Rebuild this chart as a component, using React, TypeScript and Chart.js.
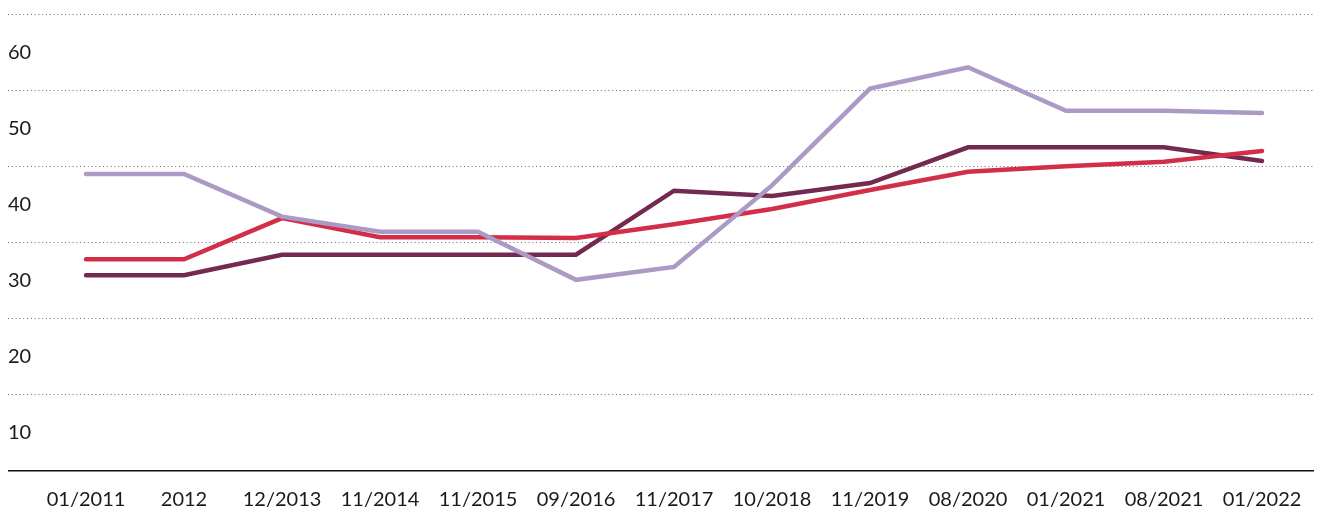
import React, { useEffect, useRef } from "react";
import { Chart, registerables } from "chart.js";

Chart.register(...registerables);

const categories = [
  "01/2011", "2012", "12/2013", "11/2014", "11/2015", "09/2016", "11/2017",
  "10/2018", "11/2019", "08/2020", "01/2021", "08/2021", "01/2022",
];

const purpleSeries = [44.0, 44.0, 38.4, 36.4, 36.4, 30.1, 31.8, 42.5, 55.2, 58.0, 52.3, 52.3, 52.0];
const redSeries = [32.8, 32.8, 38.2, 35.7, 35.7, 35.6, 37.4, 39.4, 41.9, 44.3, 45.0, 45.6, 47.0];
const darkSeries = [30.7, 30.7, 33.4, 33.4, 33.4, 33.4, 41.8, 41.1, 42.8, 47.5, 47.5, 47.5, 45.7];

const yTickValues = [5, 10, 15, 20, 25, 30, 35, 40, 45, 50, 55, 60, 65];
const yLabelValues = [10, 20, 30, 40, 50, 60];

const FONT = "Lato, 'Noto Sans', sans-serif";

export default function App() {
  const ref = useRef<HTMLCanvasElement | null>(null);

  useEffect(() => {
    if (!ref.current) return;
    const toPts = (arr: number[]) => arr.map((v, i) => ({ x: i, y: v }));
    const mk = (data: number[], color: string) => ({
      data: toPts(data),
      borderColor: color,
      backgroundColor: color,
      borderWidth: 4.5,
      pointRadius: 0,
      pointHoverRadius: 0,
      borderCapStyle: "round" as const,
      borderJoinStyle: "miter" as const,
      tension: 0,
      fill: false,
    });
    const chart = new Chart(ref.current, {
      type: "line",
      data: {
        datasets: [
          mk(purpleSeries, "#ab99c6"),
          mk(redSeries, "#d22e47"),
          mk(darkSeries, "#742a50"),
        ],
      },
      options: {
        animation: false,
        responsive: true,
        maintainAspectRatio: false,
        layout: { padding: 0 },
        plugins: { legend: { display: false }, tooltip: { enabled: false } },
        scales: {
          x: {
            type: "linear",
            min: -0.796,
            max: 12.612,
            afterBuildTicks: (axis: any) => {
              axis.ticks = categories.map((_, i) => ({ value: i }));
            },
            grid: { display: false, drawTicks: false },
            border: { display: true, color: "#111111", width: 1.5 },
            ticks: {
              autoSkip: false,
              maxRotation: 0,
              padding: 17,
              color: "#1a1a1a",
              font: { family: FONT, size: 20 },
              callback: (v: any) => categories[Math.round(Number(v))] ?? "",
            },
          },
          y: {
            type: "linear",
            min: 5,
            max: 65,
            afterBuildTicks: (axis: any) => {
              axis.ticks = yTickValues.map((v) => ({ value: v }));
            },
            grid: {
              drawTicks: false,
              lineWidth: 1,
              color: (ctx: any) => {
                const v = ctx.tick ? ctx.tick.value : 0;
                return v % 10 === 5 && v !== 5 ? "#6a6a6a" : "rgba(0,0,0,0)";
              },
            },
            border: { display: false, dash: [1, 2.8] },
            ticks: {
              mirror: true,
              padding: 0,
              color: "#1a1a1a",
              font: { family: FONT, size: 20 },
              callback: (v: any) => (yLabelValues.includes(Number(v)) ? String(v) : ""),
            },
          },
        },
      },
    });
    return () => chart.destroy();
  }, []);

  return (
    <div style={{ width: 1314, height: 508, marginTop: -6, overflow: "hidden" }}>
      <div style={{ width: 1314, height: 527, position: "relative" }}>
        <canvas ref={ref} />
      </div>
    </div>
  );
}
